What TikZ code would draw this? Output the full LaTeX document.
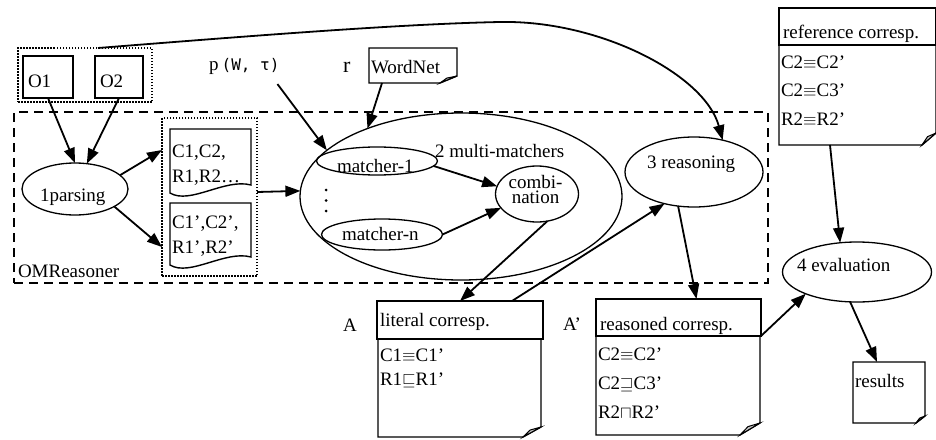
\documentclass[tikz,border=0pt]{standalone}
\usepackage{fontspec}
\setmainfont{Liberation Serif}
\newfontfamily\monof{DejaVu Sans Mono}
\usetikzlibrary{arrows.meta,shapes.geometric}
\newcommand\notefold[3]{%
  \draw[shp] (#1.north west) -- (#1.north east) -- ([yshift=#3]#1.south east) -- ([xshift=-#2]#1.south east) -- (#1.south west) -- cycle;
  \filldraw[fill=gray!45, line width=1pt] ([xshift=-#2]#1.south east) -- ([yshift=#3]#1.south east) -- ([xshift=-0.6*#2, yshift=0.7*#3]#1.south east) -- cycle;}
\newcommand\docshape[1]{%
  \draw[shp] ([yshift=5pt]#1.south west) -- (#1.north west) -- (#1.north east) -- ([yshift=13pt]#1.south east)
   .. controls ([xshift=-26pt,yshift=20pt]#1.south east) and ([xshift=-61pt,yshift=-7pt]#1.south east) .. ([yshift=5pt]#1.south west) -- cycle;}
\begin{document}
\begin{tikzpicture}[x=1pt,y=-1pt,
  every node/.style={font=\fontsize{19}{22}\selectfont, inner sep=0pt, outer sep=0pt},
  txt/.style={anchor=base west},
  arr/.style={line width=1.8pt, -{Triangle[length=15pt,width=11pt]}},
  ell/.style={draw, ellipse, line width=1.3pt},
  box/.style={draw, line width=1.6pt, anchor=north west},
  hidden/.style={anchor=north west},
  grp/.style={draw, dash pattern=on 1.5pt off 1.5pt, line width=1.5pt, anchor=north west},
  shp/.style={line width=1.4pt},
  dotmark/.style={circle, fill, minimum size=3pt},
]
\useasboundingbox (0,0) rectangle (936,439);

% ontologies
\node[grp, minimum width=134pt, minimum height=54pt] (ogrp) at (18,48) {};
\node[box, minimum width=50pt, minimum height=42pt] (o1) at (23,56) {};
\node[box, minimum width=48pt, minimum height=42pt] (o2) at (95,56) {};
\node[txt] at (28,87) {O1};
\node[txt] at (100,87) {O2};

% OMReasoner frame
\node[draw, dash pattern=on 9pt off 6pt, line width=1.5pt, anchor=north west,
      minimum width=754pt, minimum height=171pt] (omr) at (14,112) {};
\node[txt] at (18,277) {OMReasoner};

% parsing
\node[ell, minimum width=106pt, minimum height=52pt] (parse) at (75,189) {};
\node[txt] at (40,201) {1parsing};

% documents
\node[grp, minimum width=95pt, minimum height=158pt] (docs) at (162,118) {};
\node[hidden, minimum width=81pt, minimum height=69pt] (d1) at (170,129) {};
\node[hidden, minimum width=81pt, minimum height=67pt] (d2) at (170,203) {};
\docshape{d1}
\docshape{d2}
\node[txt] at (172,157) {C1,C2,};
\node[txt] at (172,182) {R1,R2\dots};
\node[txt] at (172,228) {C1’,C2’,};
\node[txt] at (172,253) {R1’,R2’};

% inputs
\node[txt] (pw) at (209,70) {p\,{\monof\fontsize{16}{18}\selectfont(W, τ)}};
\node[txt, font=\fontsize{22}{24}\selectfont] (r) at (343,72) {r};
\node[hidden, minimum width=88pt, minimum height=35pt] (wn) at (369,48) {};
\notefold{wn}{17pt}{7pt}
\node[txt] at (371,73) {WordNet};

% multi-matchers
\node[ell, minimum width=322pt, minimum height=167pt] (big) at (461,196.5) {};
\node[txt] at (435,157) {2 multi-matchers};
\node[ell, minimum width=121pt, minimum height=28pt] (m1) at (377,161) {};
\node[txt] at (337,172) {matcher-1};
\node[ell, minimum width=121pt, minimum height=31pt] (mn) at (382,234.5) {};
\node[txt] at (342,240) {matcher-n};
\node[dotmark] (dot1) at (326,190) {};
\node[dotmark] (dot2) at (326,200.5) {};
\node[dotmark] (dot3) at (326,211) {};
\node[ell, minimum width=83pt, minimum height=56pt] (comb) at (537,194) {};
\node[anchor=base, align=center, font=\fontsize{19}{15}\selectfont] at (535.5,203) {combi-\\nation};

% reasoning
\node[ell, minimum width=138pt, minimum height=70pt] (reas) at (694,172) {};
\node[txt] at (647,168) {3 reasoning};

% evaluation
\node[ell, minimum width=149pt, minimum height=60pt] (eval) at (857,272) {};
\node[txt] at (797,271) {4 evaluation};

% reference correspondences
\node[box, minimum width=157pt, minimum height=37pt] (refh) at (779,8) {};
\node[hidden, minimum width=157pt, minimum height=100pt] (refb) at (779,45) {};
\notefold{refb}{14pt}{12pt}
\node[txt] at (783,38) {reference corresp.};
\node[txt] at (781,68) {C2$\equiv$C2’};
\node[txt] at (781,96) {C2$\equiv$C3’};
\node[txt] at (781,125) {R2$\equiv$R2’};

% literal correspondences
\node[txt] (la) at (343,331) {A};
\node[box, minimum width=166pt, minimum height=38pt] (lith) at (377,301) {};
\node[hidden, minimum width=163pt, minimum height=98pt] (litb) at (378,339) {};
\notefold{litb}{18pt}{10pt}
\node[txt] at (380,326) {literal corresp.};
\node[txt] at (380,361) {C1$\equiv$C1’};
\node[txt] at (380,385) {R1$\sqsubseteq$R1’};

% reasoned correspondences
\node[txt] (ra) at (563,330) {A’};
\node[box, minimum width=165pt, minimum height=37pt] (rsh) at (596,299) {};
\node[hidden, minimum width=164pt, minimum height=99pt] (rsb) at (596,336) {};
\notefold{rsb}{20pt}{12pt}
\node[txt] at (600,330) {reasoned corresp.};
\node[txt] at (598,360) {C2$\equiv$C2’};
\node[txt] at (598,389) {C2$\sqsupseteq$C3’};
\node[txt] at (598,418) {R2$\sqcap$R2’};

% results
\node[hidden, minimum width=72pt, minimum height=61pt] (res) at (853,362) {};
\notefold{res}{9pt}{7pt}
\node[txt] at (855,387) {results};

% connectors
\draw[arr] (o1.south) -- (parse.north);
\draw[arr] (o2.south) -- (parse.65);
\draw[arr] (parse.17) -- ([yshift=-32pt]docs.north west);
\draw[arr] (parse.-24) -- ([yshift=-129pt]docs.north west);
\draw[arr] ([yshift=5pt]docs.east) -- (big.178);
\draw[arr] ([xshift=-2pt,yshift=-10pt]pw.south east) -- (big.161);
\draw[arr] ([xshift=13pt]wn.south west) -- (big.144);
\draw[arr] (m1.-5) -- (comb.169);
\draw[arr] (mn.east) -- (comb.201);
\draw[arr] (comb.-69) -- (lith.north);
\draw[arr] ([xshift=52pt]lith.north) -- (reas.227);
\draw[arr] (reas.245) -- ([xshift=18pt]rsh.north);
\draw[arr] (rsh.south east) -- (eval.203);
\draw[arr] ([xshift=51pt]refb.south west) -- (eval.120);
\draw[arr] (eval.257) -- ([xshift=24pt]res.north west);
\draw[arr] ([xshift=80pt]ogrp.north west) .. controls (250,36) and (400,24) .. (500,22)
   .. controls (600,20) and (705,75) .. (reas.48);
\end{tikzpicture}
\end{document}
